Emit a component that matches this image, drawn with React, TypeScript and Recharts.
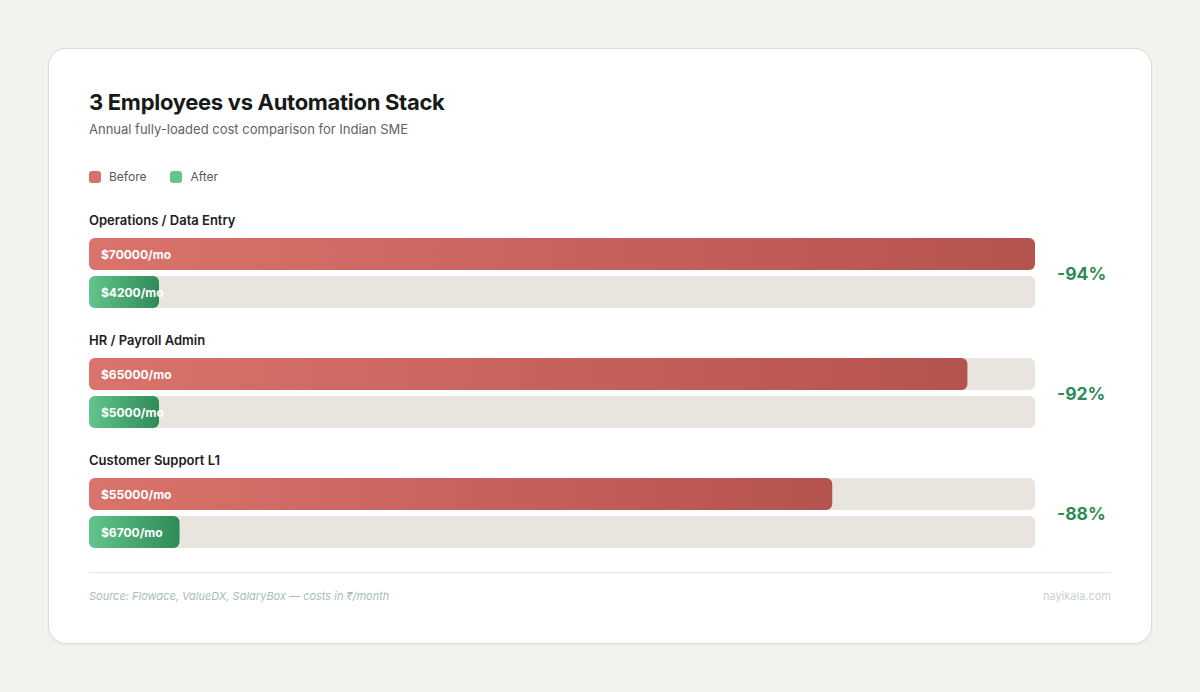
import { Bar, BarChart, LabelList, XAxis, YAxis } from "recharts";

const categories = ["Operations / Data Entry", "HR / Payroll Admin", "Customer Support L1"];
const beforeCosts = [70000, 65000, 55000];
const afterCosts = [4200, 5000, 6700];
const savings = ["-94%", "-92%", "-88%"];

const FONT = "Inter, 'Noto Sans', sans-serif";
const PLOT_LEFT = 89;
const PLOT_RIGHT = 1035;

const rows = categories.map((category, i) => ({
  category,
  before: beforeCosts[i],
  after: afterCosts[i],
  saving: savings[i],
}));

/** カテゴリ名をバーの上に描く */
function renderCategoryTick({ y, payload }: any) {
  return (
    <text
      key={`cat-${payload.value}`}
      x={PLOT_LEFT}
      y={y - 53}
      dominantBaseline="central"
      fontFamily={FONT}
      fontSize={13}
      fontWeight={600}
      fill="#1c211e"
    >
      {payload.value}
    </text>
  );
}

/** 右側の削減率 */
function renderSavingTick({ y, payload, index }: any) {
  const row = rows.find((r) => r.category === payload.value) ?? rows[index];
  return (
    <text
      key={`sav-${payload.value}`}
      x={PLOT_RIGHT + 22}
      y={y}
      dominantBaseline="central"
      fontFamily={FONT}
      fontSize={17.5}
      fontWeight={700}
      fill="#2e8b57"
    >
      {row?.saving}
    </text>
  );
}

function ValueLabel({ x, y, height, value }: any) {
  return (
    <text
      x={x + 12}
      y={y + height / 2}
      dominantBaseline="central"
      fontFamily={FONT}
      fontSize={12}
      fontWeight={700}
      fill="#ffffff"
    >
      {`$${value}/mo`}
    </text>
  );
}

function LegendItem({ color, label }: { color: string; label: string }) {
  return (
    <span style={{ display: "inline-flex", alignItems: "center", marginRight: 24 }}>
      <span
        style={{
          width: 12,
          height: 12,
          borderRadius: 3,
          background: color,
          marginRight: 8,
          display: "inline-block",
        }}
      />
      {label}
    </span>
  );
}

export default function App() {
  return (
    <div
      style={{
        position: "absolute",
        left: 0,
        top: 0,
        width: 1200,
        height: 692,
        background: "#f3f2ee",
        fontFamily: FONT,
        overflow: "hidden",
      }}
    >
      <div
        style={{
          position: "absolute",
          left: 48,
          top: 48,
          width: 1102,
          height: 594,
          background: "#ffffff",
          border: "1px solid #dcdad2",
          borderRadius: 18,
          boxShadow: "0 1px 3px rgba(0,0,0,0.05)",
        }}
      />
      <div
        style={{
          position: "absolute",
          left: 89,
          top: 88,
          fontSize: 22,
          lineHeight: "28px",
          fontWeight: 700,
          color: "#161b18",
          letterSpacing: -0.3,
        }}
      >
        3 Employees vs Automation Stack
      </div>
      <div
        style={{
          position: "absolute",
          left: 89,
          top: 119,
          fontSize: 13,
          lineHeight: "20px",
          color: "#5b6660",
        }}
      >
        Annual fully-loaded cost comparison for Indian SME
      </div>
      <div
        style={{
          position: "absolute",
          left: 89,
          top: 169,
          fontSize: 12,
          lineHeight: "16px",
          color: "#505a55",
          display: "flex",
        }}
      >
        <LegendItem color="#d9716b" label="Before" />
        <LegendItem color="#64c48d" label="After" />
      </div>

      <div style={{ position: "absolute", left: 0, top: 0 }}>
        <BarChart
          width={1200}
          height={692}
          data={rows}
          layout="vertical"
          margin={{ top: 213, right: 164, bottom: 119, left: PLOT_LEFT - 1 }}
          barSize={32}
          barGap={6}
        >
          <defs>
            <linearGradient id="beforeGrad" x1="0" y1="0" x2="1" y2="0">
              <stop offset="0%" stopColor="#d9736c" />
              <stop offset="100%" stopColor="#b5534e" />
            </linearGradient>
            <linearGradient id="afterGrad" x1="0" y1="0" x2="1" y2="0">
              <stop offset="0%" stopColor="#62c48c" />
              <stop offset="100%" stopColor="#2e8b57" />
            </linearGradient>
          </defs>
          <XAxis type="number" domain={[0, 70000]} hide />
          <YAxis
            yAxisId="left"
            type="category"
            dataKey="category"
            width={1}
            axisLine={false}
            tickLine={false}
            interval={0}
            tick={renderCategoryTick}
          />
          <YAxis
            yAxisId="right"
            orientation="right"
            type="category"
            dataKey="category"
            width={1}
            axisLine={false}
            tickLine={false}
            interval={0}
            tick={renderSavingTick}
          />
          <Bar
            yAxisId="left"
            dataKey="before"
            name="Before"
            fill="url(#beforeGrad)"
            radius={6}
            background={{ fill: "#e8e5df", radius: 6 }}
            isAnimationActive={false}
          >
            <LabelList dataKey="before" content={<ValueLabel />} />
          </Bar>
          <Bar
            yAxisId="left"
            dataKey="after"
            name="After"
            fill="url(#afterGrad)"
            radius={6}
            minPointSize={70}
            background={{ fill: "#e8e5df", radius: 6 }}
            isAnimationActive={false}
          >
            <LabelList dataKey="after" content={<ValueLabel />} />
          </Bar>
        </BarChart>
      </div>

      <div
        style={{
          position: "absolute",
          left: 89,
          top: 572,
          width: 1022,
          height: 1,
          background: "#e6e4dc",
        }}
      />
      <div
        style={{
          position: "absolute",
          left: 89,
          top: 589,
          fontSize: 11,
          lineHeight: "14px",
          fontStyle: "italic",
          color: "#a9bdb1",
        }}
      >
        Source: Flowace, ValueDX, SalaryBox — costs in ₹/month
      </div>
      <div
        style={{
          position: "absolute",
          right: 1200 - 1111,
          top: 589,
          fontSize: 11,
          lineHeight: "14px",
          color: "#c3d2c9",
        }}
      >
        nayikala.com
      </div>
    </div>
  );
}
